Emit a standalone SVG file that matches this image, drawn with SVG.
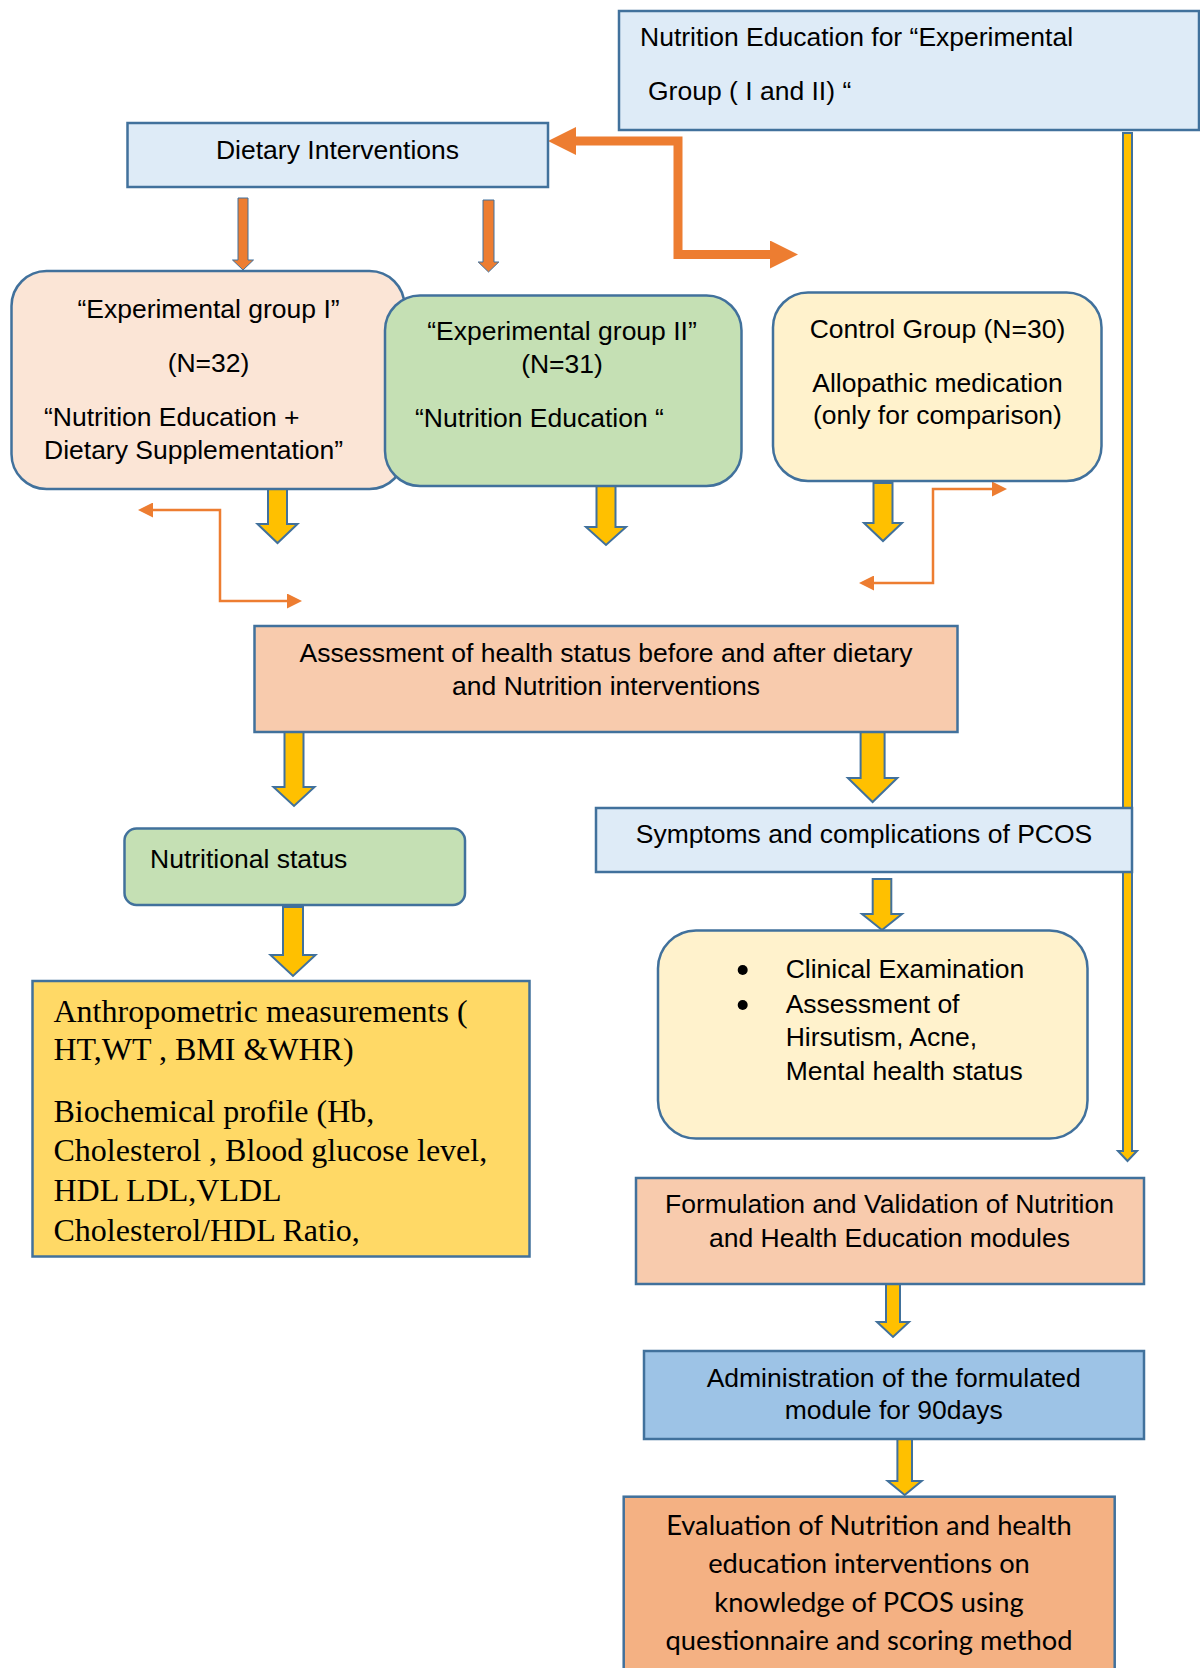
<svg xmlns="http://www.w3.org/2000/svg" width="1200" height="1668" viewBox="0 0 1200 1668">
<defs>
<style>
.box{stroke:#41719C;stroke-width:2.5}
.t{font-family:"Liberation Sans",Arial,sans-serif;font-size:26.5px;fill:#000}
.tc{text-anchor:middle}
.serif{font-family:"Liberation Serif","Times New Roman",serif;font-size:32px;fill:#000}
.cal{font-family:Lato,"Open Sans",sans-serif;font-size:27.3px;fill:#000;text-anchor:middle}
.ya{fill:#FFC000;stroke:#41719C;stroke-width:2;stroke-linejoin:miter}
.oa{fill:#ED7D31;stroke:#41719C;stroke-width:1}
.thin{fill:none;stroke:#ED7D31;stroke-width:2.5}
.thick{fill:none;stroke:#ED7D31;stroke-width:9}
</style>
<marker id="mThin" markerUnits="userSpaceOnUse" viewBox="0 0 15 15" refX="0" refY="7.5" markerWidth="15" markerHeight="15" orient="auto-start-reverse">
<path d="M0,0 L15,7.5 L0,15 Z" fill="#ED7D31"/>
</marker>
<marker id="mThick" markerUnits="userSpaceOnUse" viewBox="0 0 28 28" refX="0" refY="14" markerWidth="28" markerHeight="28" orient="auto-start-reverse">
<path d="M0,0 L28,14 L0,28 Z" fill="#ED7D31"/>
</marker>
</defs>
<rect width="1200" height="1668" fill="#FFFFFF"/>

<g id="connectors">
<path class="ya" d="M1123,133 H1132 V1151 H1137 L1127.5,1161 L1118,1151 H1123 Z"/>
<path class="thick" d="M576,141 H678 V254.5 H770" marker-start="url(#mThick)" marker-end="url(#mThick)"/>
<path class="oa" d="M238,198 H248 V260 H253.5 L243,270 L232.5,260 H238 Z"/>
<path class="oa" d="M483,200 H494 V262 H498.8 L488.5,272 L478.2,262 H483 Z"/>
<path class="thin" d="M153,510 H220 V601 H287" marker-start="url(#mThin)" marker-end="url(#mThin)"/>
<path class="thin" d="M992,489 H933 V583 H874" marker-start="url(#mThin)" marker-end="url(#mThin)"/>
<path class="ya" d="M268,488 H287 V524 H297.5 L277.5,543 L257.5,524 H268 Z"/>
<path class="ya" d="M596.5,486 H615.5 V527 H626 L606,545 L586,527 H596.5 Z"/>
<path class="ya" d="M873.5,483 H892.5 V523 H902 L883,541 L864,523 H873.5 Z"/>
<path class="ya" d="M284.5,728 H303.5 V787 H314.5 L294,806 L273.5,787 H284.5 Z"/>
<path class="ya" d="M860.6,729 H884.6 V778 H897.3 L872.6,802 L847.9,778 H860.6 Z"/>
<path class="ya" d="M283,907 H303 V955 H315.5 L293,976 L270.5,955 H283 Z"/>
<path class="ya" d="M872.7,879 H891.3 V914 H902 L882,930 L862,914 H872.7 Z"/>
<path class="ya" d="M886,1284 H900 V1322 H909 L893,1337 L877,1322 H886 Z"/>
<path class="ya" d="M897.4,1439 H912 V1481 H921.7 L904.7,1495 L887.7,1481 H897.4 Z"/>
</g>

<g id="nutrition-education">
<rect class="box" x="619" y="11" width="580" height="119" fill="#DEEBF7"/>
<text class="t" x="640" y="46">Nutrition Education for “Experimental</text>
<text class="t" x="648" y="100">Group ( I and II) “</text>
</g>

<g id="dietary-interventions">
<rect class="box" x="127.5" y="123" width="420.5" height="64" fill="#DEEBF7"/>
<text class="t tc" x="337.5" y="159">Dietary Interventions</text>
</g>

<g id="experimental-group-1">
<rect class="box" x="11.5" y="271" width="393" height="218" rx="35" ry="35" fill="#FBE5D6"/>
<text class="t tc" x="208.5" y="318">“Experimental group I”</text>
<text class="t tc" x="208.5" y="372">(N=32)</text>
<text class="t" x="44" y="425.5">“Nutrition Education +</text>
<text class="t" x="44" y="459">Dietary Supplementation”</text>
</g>

<g id="experimental-group-2">
<rect class="box" x="385" y="295.5" width="356.5" height="190.5" rx="35" ry="35" fill="#C5E0B4"/>
<text class="t tc" x="562" y="340">“Experimental group II”</text>
<text class="t tc" x="562" y="373">(N=31)</text>
<text class="t" x="415" y="427">“Nutrition Education “</text>
</g>

<g id="control-group">
<rect class="box" x="773" y="292.5" width="328.5" height="188.5" rx="35" ry="35" fill="#FFF2CC"/>
<text class="t tc" x="937.5" y="338">Control Group (N=30)</text>
<text class="t tc" x="937.5" y="392">Allopathic medication</text>
<text class="t tc" x="937.5" y="424">(only for comparison)</text>
</g>

<g id="assessment">
<rect class="box" x="254.5" y="626" width="703" height="106" fill="#F8CBAD"/>
<text class="t tc" x="606" y="661.5">Assessment of health status before and after dietary</text>
<text class="t tc" x="606" y="694.5">and Nutrition interventions</text>
</g>

<g id="nutritional-status">
<rect class="box" x="124.5" y="828.5" width="340.5" height="76.5" rx="12" ry="12" fill="#C5E0B4"/>
<text class="t" x="150" y="868">Nutritional status</text>
</g>

<g id="symptoms">
<rect class="box" x="596" y="808" width="536" height="64" fill="#DEEBF7"/>
<text class="t tc" x="864" y="843">Symptoms and complications of PCOS</text>
</g>

<g id="anthropometric">
<rect class="box" x="32.5" y="981" width="497" height="275.5" fill="#FFD966"/>
<text class="serif" x="53.5" y="1021.5">Anthropometric measurements (</text>
<text class="serif" x="53.5" y="1060">HT,WT , BMI &amp;WHR)</text>
<text class="serif" x="53.5" y="1122">Biochemical profile (Hb,</text>
<text class="serif" x="53.5" y="1161">Cholesterol , Blood glucose level,</text>
<text class="serif" x="53.5" y="1200.5">HDL LDL,VLDL</text>
<text class="serif" x="53.5" y="1241">Cholesterol/HDL Ratio,</text>
</g>

<g id="clinical">
<rect class="box" x="658" y="930.5" width="429.5" height="208" rx="38" ry="38" fill="#FFF2CC"/>
<circle cx="742.7" cy="970" r="5" fill="#000"/>
<circle cx="742.7" cy="1005" r="5" fill="#000"/>
<text class="t" x="785.7" y="977.5">Clinical Examination</text>
<text class="t" x="785.7" y="1012.5">Assessment of</text>
<text class="t" x="785.7" y="1045.5">Hirsutism, Acne,</text>
<text class="t" x="785.7" y="1079.5">Mental health status</text>
</g>

<g id="formulation">
<rect class="box" x="636" y="1178" width="508" height="106" fill="#F8CBAD"/>
<text class="t tc" x="889.5" y="1213">Formulation and Validation of Nutrition</text>
<text class="t tc" x="889.5" y="1246.5">and Health Education modules</text>
</g>

<g id="administration">
<rect class="box" x="644" y="1351" width="500" height="88" fill="#9DC3E6"/>
<text class="t tc" x="893.7" y="1386.5">Administration of the formulated</text>
<text class="t tc" x="893.7" y="1419">module for 90days</text>
</g>

<g id="evaluation">
<rect class="box" x="623.7" y="1496.7" width="491" height="200" fill="#F4B183"/>
<text class="cal" x="869" y="1535">Evaluation of Nutrition and health</text>
<text class="cal" x="869" y="1573.3">education interventions on</text>
<text class="cal" x="869" y="1611.7">knowledge of PCOS using</text>
<text class="cal" x="869" y="1650">questionnaire and scoring method</text>
</g>
</svg>
